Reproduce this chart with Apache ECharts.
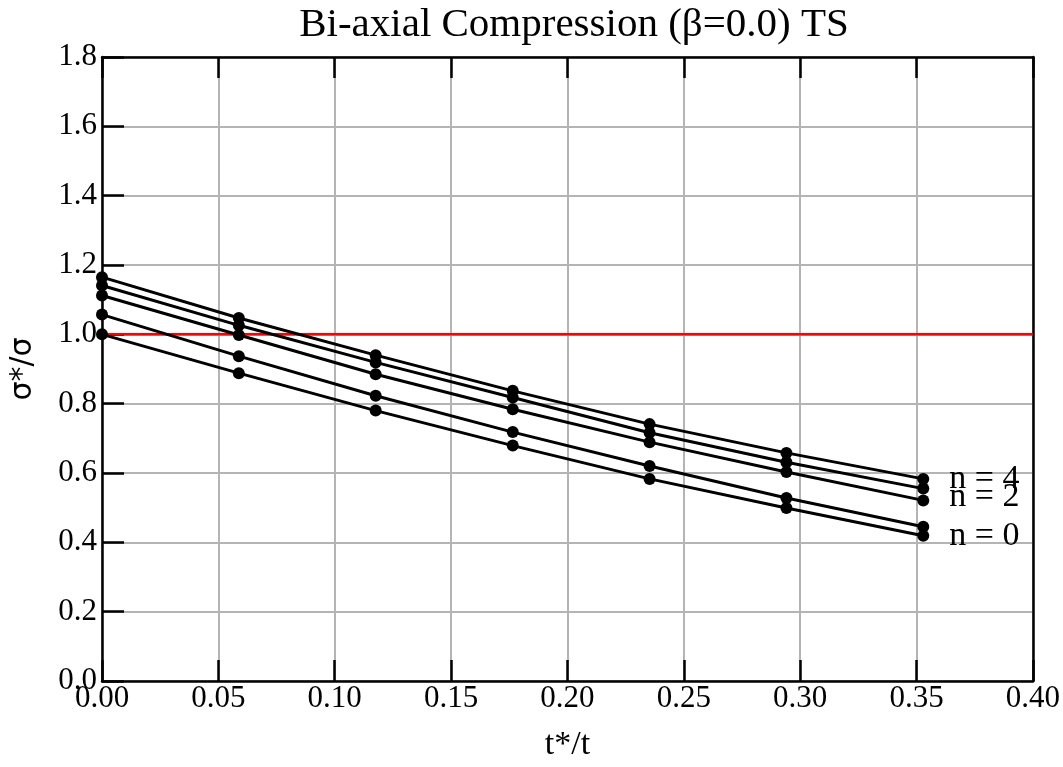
<!DOCTYPE html>
<html>
<head>
<meta charset="utf-8">
<script src="https://cdn.jsdelivr.net/npm/echarts@6/dist/echarts.min.js"></script>
<style>html,body{margin:0;padding:0;background:#fff;}#c{width:1063px;height:767px;}</style>
</head>
<body>
<div id="c"></div>
<script>
const xValues = [0.0, 0.0588, 0.1176, 0.1765, 0.2353, 0.2941, 0.3529];
const seriesA = [1.165, 1.047, 0.940, 0.837, 0.741, 0.658, 0.583];
const seriesB = [1.141, 1.026, 0.919, 0.818, 0.716, 0.631, 0.555];
const seriesC = [1.112, 0.998, 0.885, 0.784, 0.689, 0.603, 0.521];
const seriesD = [1.057, 0.937, 0.823, 0.718, 0.620, 0.528, 0.445];
const seriesE = [1.000, 0.888, 0.780, 0.679, 0.583, 0.499, 0.419];
const endLabels = ['n = 4', '', 'n = 2', '', 'n = 0'];
const refLine = [[0, 1.0], [0.4, 1.0]];
const titleText = 'Bi-axial Compression (\u03b2=0.0) TS';
const xName = 't*/t';
const yName = '\u03c3*/\u03c3';

const serif = '"Liberation Serif", "Times New Roman", serif';
const allSeries = [seriesA, seriesB, seriesC, seriesD, seriesE];
const labelOffsets = [[0, 0], [0, 0], [0, -3], [0, 0], [0, 0]];

const series = [{
  type: 'line',
  data: refLine,
  symbol: 'none',
  lineStyle: {color: '#ff0000', width: 2.5},
  z: 2,
  silent: true
}];
allSeries.forEach((vals, i) => {
  const data = vals.map((v, j) => {
    const pt = {value: [xValues[j], v]};
    if (j === vals.length - 1 && endLabels[i]) {
      pt.label = {
        show: true,
        position: 'right',
        distance: 20,
        offset: labelOffsets[i],
        formatter: endLabels[i],
        color: '#000',
        fontFamily: serif,
        fontSize: 34
      };
    }
    return pt;
  });
  series.push({
    type: 'line',
    data: data,
    symbol: 'circle',
    symbolSize: 12,
    itemStyle: {color: '#000'},
    lineStyle: {color: '#000', width: 3},
    z: 3,
    animation: false
  });
});

const chart = echarts.init(document.getElementById('c'));
chart.setOption({
  animation: false,
  backgroundColor: '#fff',
  title: {
    text: titleText,
    left: 569,
    textAlign: 'center',
    top: 0,
    textStyle: {fontFamily: serif, fontSize: 41, fontWeight: 'normal', color: '#000'}
  },
  grid: {left: 102, right: 30, top: 57, bottom: 82},
  xAxis: [{
    type: 'value',
    min: 0, max: 0.4, interval: 0.05,
    name: xName,
    nameLocation: 'middle',
    nameGap: 47,
    nameTextStyle: {fontFamily: serif, fontSize: 34, color: '#000'},
    axisLine: {show: true, onZero: false, lineStyle: {color: '#000', width: 2.5}},
    axisTick: {show: true, inside: true, length: 21, lineStyle: {color: '#000', width: 2.5}},
    axisLabel: {fontFamily: serif, fontSize: 31, color: '#000', margin: 2, formatter: v => v.toFixed(2)},
    splitLine: {show: true, lineStyle: {color: '#b4b4b4', width: 2}}
  }, {
    type: 'value',
    position: 'top',
    min: 0, max: 0.4, interval: 0.05,
    axisLine: {show: true, onZero: false, lineStyle: {color: '#000', width: 2.5}},
    axisTick: {show: true, inside: true, length: 21, lineStyle: {color: '#000', width: 2.5}},
    axisLabel: {show: false},
    splitLine: {show: false}
  }],
  yAxis: [{
    type: 'value',
    min: 0, max: 1.8, interval: 0.2,
    name: yName,
    nameLocation: 'middle',
    nameGap: 64,
    nameRotate: 90,
    nameTextStyle: {fontFamily: '"DejaVu Sans", sans-serif', fontSize: 30, color: '#000'},
    axisLine: {show: true, onZero: false, lineStyle: {color: '#000', width: 2.5}},
    axisTick: {show: true, inside: true, length: 22, lineStyle: {color: '#000', width: 2.5}},
    axisLabel: {fontFamily: serif, fontSize: 31, color: '#000', margin: 5, formatter: v => v.toFixed(1)},
    splitLine: {show: true, lineStyle: {color: '#b4b4b4', width: 2}}
  }, {
    type: 'value',
    position: 'right',
    min: 0, max: 1.8, interval: 0.2,
    axisLine: {show: true, onZero: false, lineStyle: {color: '#000', width: 2.5}},
    axisTick: {show: false},
    axisLabel: {show: false},
    splitLine: {show: false}
  }],
  series: series
});
</script>
</body>
</html>
